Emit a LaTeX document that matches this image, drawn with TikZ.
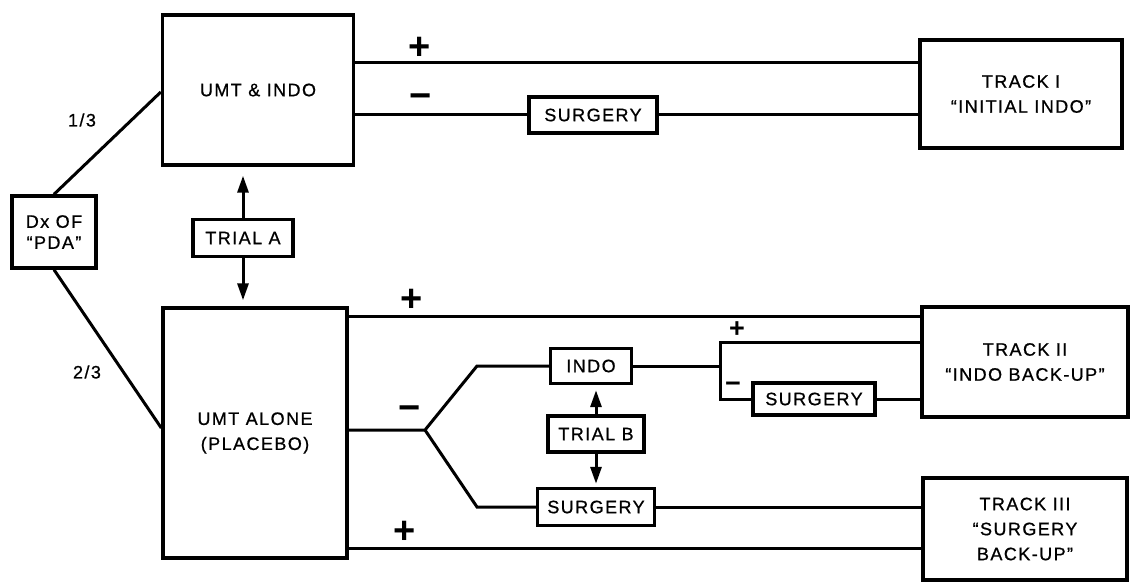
\documentclass[tikz,border=0pt]{standalone}
\usepackage{fontspec}
\setmainfont{Liberation Sans}[LetterSpace=8,FakeBold=0.8]
\newfontfamily\signfont{Liberation Sans}
\usetikzlibrary{arrows.meta,calc}
\begin{document}
\begin{tikzpicture}[x=1pt,y=-1pt,
  box/.style={draw,line width=3.4pt,inner sep=0pt,align=center,
    font=\fontsize{18}{25}\selectfont},
  ln/.style={line width=3pt},
  arr/.style={line width=3pt,-{Triangle[length=17pt,width=11pt]}},
  sign/.style={inner sep=0pt,font=\signfont\bfseries\fontsize{38}{38}\selectfont},
  smallsign/.style={inner sep=0pt,font=\signfont\bfseries\fontsize{27}{27}\selectfont},
  frac/.style={inner sep=0pt,font=\fontsize{18}{20}\selectfont}]
\useasboundingbox (0,0) rectangle (1131,583);
% boxes
\node[box,minimum width=84pt,minimum height=72pt,font=\fontsize{18}{21}\selectfont] (dx) at (54,232) {Dx OF\\“PDA”};
\node[box,minimum width=191pt,minimum height=150pt] (umtindo) at (258,90) {UMT \& INDO};
\node[box,minimum width=100pt,minimum height=37pt] (trialA) at (243,238) {TRIAL A};
\node[box,minimum width=184pt,minimum height=250pt] (umtalone) at (255,433) {UMT ALONE\\(PLACEBO)};
\node[box,minimum width=128pt,minimum height=36pt] (surg1) at (593,115) {SURGERY};
\node[box,minimum width=202pt,minimum height=108pt] (track1) at (1021,94) {TRACK I\\“INITIAL INDO”};
\node[box,minimum width=81pt,minimum height=35pt] (indo) at (591,366) {INDO};
\node[box,minimum width=96pt,minimum height=36pt] (trialB) at (596,434) {TRIAL B};
\node[box,minimum width=117pt,minimum height=37pt] (surg3) at (596,507) {SURGERY};
\node[box,minimum width=122pt,minimum height=32pt] (surg2) at (814,399) {SURGERY};
\node[box,minimum width=206pt,minimum height=110pt] (track2) at (1025,362) {TRACK II\\“INDO BACK-UP”};
\node[box,minimum width=204pt,minimum height=102pt] (track3) at (1025,529) {TRACK III\\“SURGERY\\BACK-UP”};
% coordinates
\coordinate (br) at (425,430);
\coordinate (b1) at (477,366);
\coordinate (b2) at (477,507);
\coordinate (bj) at (720,366);
\coordinate (bt) at (720,342);
\coordinate (bb) at (720,399);
% left connectors
\draw[ln] (dx.north) -- (umtindo.west |- 0,92);
\draw[ln] (dx.south) -- (umtalone.west |- 0,428);
\node[frac] (f1) at (82,120) {1/3};
\node[frac] (f2) at (87,372) {2/3};
% trial A arrows
\draw[arr] (trialA.north) -- ($(umtindo.south -| trialA.north)+(0,9)$);
\draw[arr] (trialA.south) -- ($(umtalone.north -| trialA.south)+(0,-6)$);
% top branch
\draw[ln] (umtindo.east |- 0,63) -- (track1.west |- 0,63);
\draw[ln] (umtindo.east |- surg1.west) -- (surg1.west);
\draw[ln] (surg1.east) -- (track1.west |- surg1.east);
\node[sign] (p1) at (420,48) {+};
\node[sign] (m1) at (421,101) {−};
% lower branch
\draw[ln] (umtalone.east |- 0,316) -- (track2.west |- 0,316);
\node[sign] (p2) at (412,300) {+};
\draw[ln] (umtalone.east |- br) -- (br) -- (b1) -- (indo.west);
\draw[ln] (br) -- (b2) -- (surg3.west);
\node[sign] (m2) at (410,413) {−};
\draw[ln] (indo.east) -- (bj);
\draw[ln] (track2.west |- bt) -- (bt) -- (bb) -- (surg2.west);
\draw[ln] (surg2.east) -- (track2.west |- surg2.east);
\node[smallsign] (p3) at (737,330) {+};
\node[smallsign] (m3) at (733,387) {−};
% trial B arrows
\draw[arr] (trialB.north) -- ($(indo.south -| trialB.north)+(0,5)$);
\draw[arr] (trialB.south) -- ($(surg3.north -| trialB.south)+(0,-3)$);
\draw[ln] (surg3.east) -- (track3.west |- surg3.east);
\draw[ln] (umtalone.east |- 0,548) -- (track3.west |- 0,548);
\node[sign] (p4) at (405,532) {+};
\end{tikzpicture}
\end{document}
